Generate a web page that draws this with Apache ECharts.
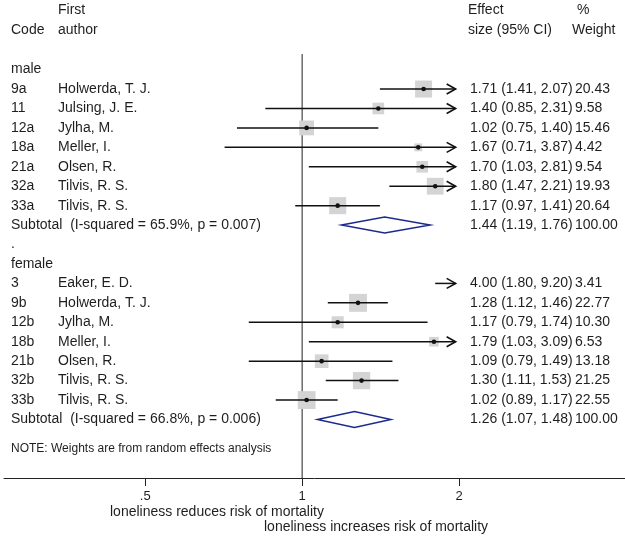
<!DOCTYPE html>
<html>
<head>
<meta charset="utf-8">
<script src="https://cdn.jsdelivr.net/npm/echarts@6/dist/echarts.min.js"></script>
<style>html,body{margin:0;padding:0;background:#fff}#c{width:625px;height:540px}</style>
</head>
<body>
<div id="c"></div>
<script>
// ---- data ----
const codes   = ['9a','11','12a','18a','21a','32a','33a','3','9b','12b','18b','21b','32b','33b'];
const authors = ['Holwerda, T. J.','Julsing, J. E.','Jylha, M.','Meller, I.','Olsen, R.','Tilvis, R. S.','Tilvis, R. S.',
                 'Eaker, E. D.','Holwerda, T. J.','Jylha, M.','Meller, I.','Olsen, R.','Tilvis, R. S.','Tilvis, R. S.'];
const effect  = [1.71,1.40,1.02,1.67,1.70,1.80,1.17, 4.00,1.28,1.17,1.79,1.09,1.30,1.02];
const lower   = [1.41,0.85,0.75,0.71,1.03,1.47,0.97, 1.80,1.12,0.79,1.03,0.79,1.11,0.89];
const upper   = [2.07,2.31,1.40,3.87,2.81,2.21,1.41, 9.20,1.46,1.74,3.09,1.49,1.53,1.17];
const weights = [20.43,9.58,15.46,4.42,9.54,19.93,20.64, 3.41,22.77,10.30,6.53,13.18,21.25,22.55];
const studyRows = [1,2,3,4,5,6,7, 11,12,13,14,15,16,17];

const groups      = ['male','female'];
const groupRows   = [0,10];
const subLabels   = ['Subtotal  (I-squared = 65.9%, p = 0.007)','Subtotal  (I-squared = 66.8%, p = 0.006)'];
const subEffect   = [1.44,1.26];
const subLower    = [1.19,1.07];
const subUpper    = [1.76,1.48];
const subWeight   = ['100.00','100.00'];
const subRows     = [8,18];

const tickValues  = [0.5,1,2];
const tickLabels  = ['.5','1','2'];
const note = 'NOTE: Weights are from random effects analysis';
const xTitle1 = 'loneliness reduces risk of mortality';
const xTitle2 = 'loneliness increases risk of mortality';

// ---- layout ----
const FONT = '"Liberation Sans", Arial, Helvetica, sans-serif';
const TXT = '#1e1e1e';
const CLIP_MAX = 1.97, CLIP_MIN = 0.27;
const X_CODE = 11, X_AUTH = 58, X_ES = 470, X_W = 575;

const chart = echarts.init(document.getElementById('c'), null, {renderer:'canvas'});

const studyData = effect.map((e,i)=>[e, studyRows[i], lower[i], upper[i], weights[i]]);
const subData = subEffect.map((e,i)=>[e, subRows[i], subLower[i], subUpper[i]]);

// text rows
const textItems = [];
function addText(row, x, s, size, align) { textItems.push([1, row, x, s, size || 14, align || 'left']); }
addText(-3.06, X_AUTH, 'First'); addText(-3.06, 468, 'Effect'); addText(-3.06, 577, '%');
addText(-2.04, X_CODE, 'Code'); addText(-2.04, X_AUTH, 'author');
addText(-2.04, 468, 'size (95% CI)'); addText(-2.04, 572, 'Weight');
groups.forEach((g,i)=>addText(groupRows[i], X_CODE, g));
addText(9, X_CODE, '.');
codes.forEach((c,i)=>{
  addText(studyRows[i], X_CODE, c);
  addText(studyRows[i], X_AUTH, authors[i]);
  addText(studyRows[i], X_ES, effect[i].toFixed(2)+' ('+lower[i].toFixed(2)+', '+upper[i].toFixed(2)+')');
  addText(studyRows[i], X_W, weights[i].toFixed(2));
});
subLabels.forEach((s,i)=>{
  addText(subRows[i], X_CODE, s);
  addText(subRows[i], X_ES, subEffect[i].toFixed(2)+' ('+subLower[i].toFixed(2)+', '+subUpper[i].toFixed(2)+')');
  addText(subRows[i], X_W, subWeight[i]);
});
addText(19.52, X_CODE, note, 12);

const option = {
  animation: false,
  backgroundColor: '#fff',
  grid: {left: 4, right: 0, top: 0, bottom: 62, containLabel: false},
  xAxis: {
    type: 'log', logBase: 2, min: 0.268, max: 4.162, position: 'bottom',
    axisLine: {show: true, onZero: false, lineStyle: {color: '#222', width: 1}},
    axisTick: {show: true, length: 8, customValues: tickValues, lineStyle: {color: '#222'}},
    axisLabel: {show: true, customValues: tickValues, margin: 12, color: TXT, fontFamily: FONT, fontSize: 13,
      formatter: v => { const k = tickValues.findIndex(t=>Math.abs(t-v)<1e-6); return k>=0 ? tickLabels[k] : ''; }},
    splitLine: {show: false}
  },
  yAxis: {type: 'value', inverse: true, min: -3.58, max: 21.01, show: false},
  graphic: [
    {type:'text', left: 110, top: 505, style:{text: xTitle1, font: '14px '+FONT, fill: TXT}},
    {type:'text', left: 264, top: 520, style:{text: xTitle2, font: '14px '+FONT, fill: TXT}}
  ],
  series: [
    { // reference line at 1
      type: 'line', data: [[1,-0.8],[1,21.01]], symbol: 'none',
      lineStyle: {color: '#222', width: 1}, silent: true, z: 1
    },
    { // studies
      type: 'custom', data: studyData, clip: false, z: 3,
      renderItem: (params, api) => {
        const es = api.value(0), row = api.value(1), lo = api.value(2), hi = api.value(3), w = api.value(4);
        const l = Math.max(lo, CLIP_MIN), h = Math.min(hi, CLIP_MAX);
        const p1 = api.coord([l,row]), p2 = api.coord([h,row]);
        const ch = [];
        if (es <= CLIP_MAX && es >= CLIP_MIN) {
          const c = api.coord([es,row]);
          const s = 3.76*Math.sqrt(w);
          ch.push({type:'rect', shape:{x:c[0]-s/2, y:c[1]-s/2, width:s, height:s}, style:{fill:'#d4d4d4'}});
        }
        ch.push({type:'line', shape:{x1:p1[0], y1:p1[1], x2:p2[0], y2:p2[1]}, style:{stroke:'#111', lineWidth:1.5}});
        if (hi > CLIP_MAX) {
          ch.push({type:'polyline', shape:{points:[[p2[0]-9,p2[1]-5],[p2[0],p2[1]],[p2[0]-9,p2[1]+5]]},
                   style:{stroke:'#111', lineWidth:1.6, fill:null}});
        }
        if (es <= CLIP_MAX && es >= CLIP_MIN) {
          const c = api.coord([es,row]);
          ch.push({type:'circle', shape:{cx:c[0], cy:c[1], r:2.3}, style:{fill:'#111'}});
        }
        return {type:'group', children: ch};
      }
    },
    { // subtotal diamonds
      type: 'custom', data: subData, clip: false, z: 3,
      renderItem: (params, api) => {
        const es = api.value(0), row = api.value(1), lo = api.value(2), hi = api.value(3);
        const a = api.coord([lo,row]), c = api.coord([es,row]), b = api.coord([hi,row]);
        return {type:'polygon', shape:{points:[[a[0],a[1]],[c[0],c[1]-8],[b[0],b[1]],[c[0],c[1]+8]]},
                style:{fill:null, stroke:'#1c2a8c', lineWidth:1.5}};
      }
    },
    { // text columns
      type: 'custom', data: textItems, clip: false, z: 4,
      dimensions: ['x','y','px','s','size','align'],
      encode: {x: 0, y: 1},
      renderItem: (params, api) => {
        const it = textItems[params.dataIndex];
        const y = api.coord([1, it[1]])[1];
        return {type:'text', x: it[2], y: y,
                style:{text: it[3], font: it[4]+'px '+FONT, fill: TXT, textAlign: it[5], textVerticalAlign:'middle'}};
      }
    }
  ]
};
chart.setOption(option);
</script>
</body>
</html>
